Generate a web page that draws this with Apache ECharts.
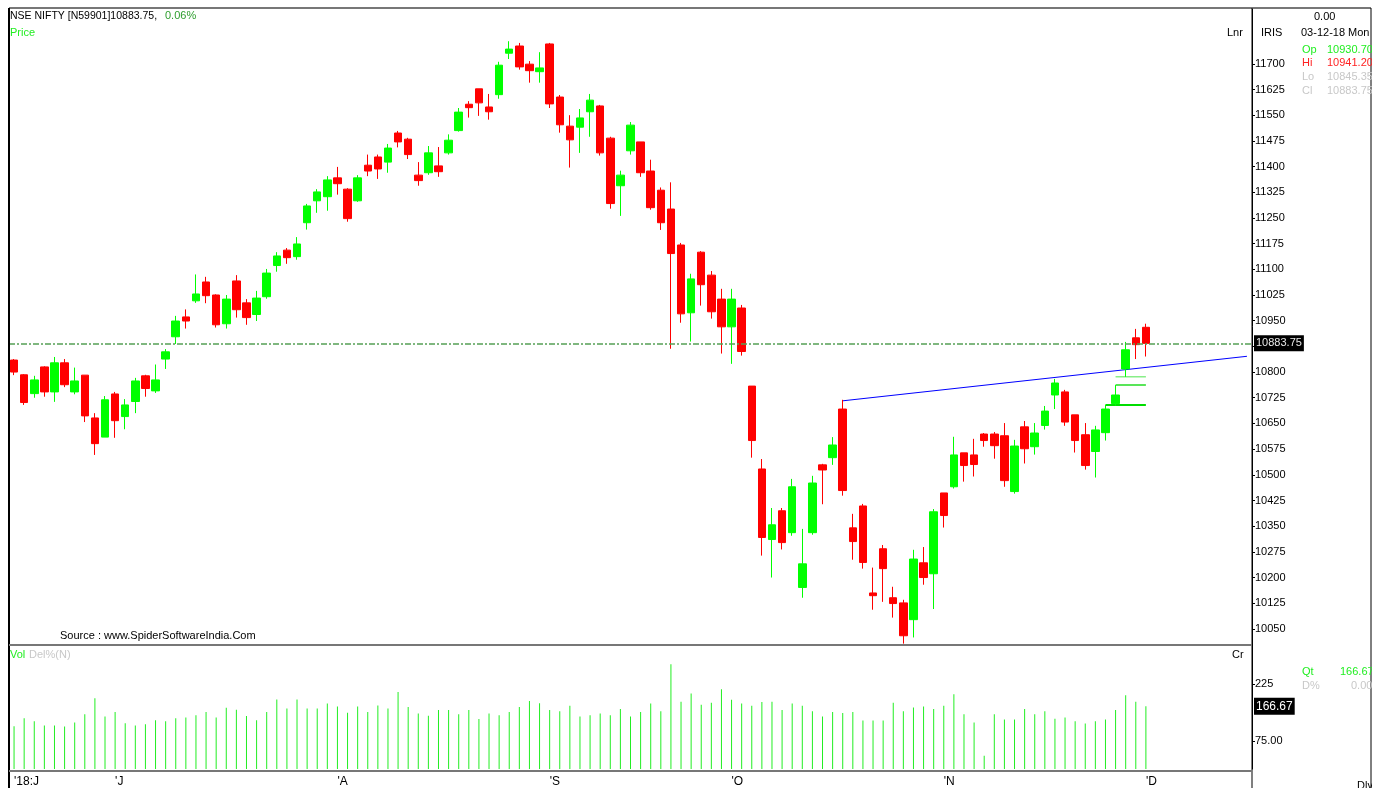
<!DOCTYPE html>
<html lang="en">
  <head>
    <meta charset="UTF-8" />
    <title>NSE NIFTY</title>
    <style>
      html,
      body {
        margin: 0;
        padding: 0;
        background: #fff;
      }
      #chart {
        width: 1383px;
        height: 788px;
      }
    </style>
  </head>
  <body>
    <div id="chart"></div>
    <script src="https://cdn.jsdelivr.net/npm/echarts@6/dist/echarts.min.js"></script>
    <script>
      // daily NIFTY, mid June 2018 .. 03-12-18
      const opens = [
        10835, 10792, 10737, 10815, 10742, 10827, 10742, 10791, 10666, 10610,
        10736, 10670, 10714, 10789, 10745, 10838, 10903, 10961, 11008, 11063,
        11025, 10941, 11066, 11002, 10968, 11020, 11111, 11156, 11137, 11236,
        11300, 11312, 11367, 11334, 11300, 11404, 11428, 11413, 11498, 11480,
        11375, 11382, 11402, 11440, 11505, 11582, 11627, 11574, 11610, 11731,
        11752, 11699, 11677, 11758, 11603, 11518, 11515, 11560, 11577, 11483,
        11344, 11446, 11472, 11387, 11331, 11276, 11171, 10973, 11150, 11083,
        11013, 10932, 10987, 10759, 10517, 10311, 10395, 10331, 10171, 10331,
        10529, 10550, 10692, 10345, 10409, 10155, 10284, 10141, 10126, 10077,
        10243, 10211, 10447, 10465, 10564, 10558, 10619, 10619, 10614, 10451,
        10640, 10582, 10644, 10733, 10742, 10675, 10617, 10568, 10623, 10708,
        10809, 10900, 10930.7,
      ];
      const highs = [
        10838, 10794, 10789, 10817, 10844, 10838, 10813, 10791, 10680, 10730,
        10742, 10721, 10783, 10792, 10822, 10867, 10964, 10983, 11085, 11078,
        11027, 11025, 11083, 11013, 11037, 11101, 11150, 11162, 11194, 11291,
        11334, 11372, 11399, 11337, 11375, 11435, 11435, 11466, 11504, 11484,
        11413, 11460, 11457, 11494, 11571, 11591, 11627, 11612, 11706, 11766,
        11761, 11708, 11734, 11761, 11609, 11550, 11568, 11612, 11580, 11487,
        11388, 11530, 11472, 11420, 11339, 11354, 11177, 11087, 11153, 11095,
        11043, 11043, 10996, 10759, 10546, 10403, 10403, 10488, 10342, 10497,
        10532, 10610, 10719, 10386, 10415, 10229, 10295, 10173, 10135, 10281,
        10289, 10400, 10447, 10611, 10564, 10605, 10622, 10625, 10651, 10602,
        10657, 10651, 10701, 10780, 10748, 10675, 10651, 10643, 10704, 10762,
        10888, 10926, 10941.2,
      ];
      const lows = [
        10791, 10704, 10725, 10728, 10713, 10756, 10735, 10654, 10558, 10610,
        10608, 10633, 10680, 10728, 10739, 10809, 10882, 10927, 11002, 11001,
        10930, 10927, 10959, 10938, 10949, 11014, 11093, 11116, 11128, 11216,
        11265, 11271, 11318, 11239, 11297, 11372, 11364, 11382, 11456, 11422,
        11344, 11376, 11370, 11435, 11502, 11543, 11548, 11537, 11598, 11714,
        11683, 11645, 11645, 11571, 11499, 11397, 11440, 11487, 11432, 11277,
        11256, 11435, 11370, 11274, 11215, 10868, 10944, 10889, 10994, 10956,
        10854, 10824, 10848, 10550, 10264, 10200, 10282, 10322, 10141, 10325,
        10414, 10529, 10439, 10252, 10226, 10106, 10129, 10083, 10007, 10025,
        10179, 10108, 10346, 10460, 10480, 10495, 10582, 10547, 10465, 10445,
        10533, 10559, 10632, 10692, 10643, 10565, 10515, 10492, 10600, 10702,
        10786, 10838, 10845.35,
      ];
      const closes = [
        10800, 10711, 10777, 10742, 10827, 10763, 10774, 10672, 10591, 10719,
        10658, 10704, 10774, 10752, 10777, 10859, 10949, 10949, 11028, 11023,
        10938, 11013, 10982, 10959, 11016, 11089, 11139, 11134, 11174, 11285,
        11326, 11361, 11350, 11248, 11367, 11387, 11393, 11454, 11472, 11435,
        11359, 11440, 11385, 11477, 11559, 11572, 11586, 11560, 11696, 11743,
        11691, 11680, 11688, 11583, 11522, 11478, 11542, 11594, 11440, 11292,
        11375, 11521, 11382, 11280, 11236, 11146, 10970, 11072, 11055, 10976,
        10932, 11013, 10860, 10600, 10317, 10354, 10302, 10465, 10240, 10476,
        10514, 10587, 10454, 10305, 10244, 10147, 10226, 10124, 10030, 10254,
        10200, 10392, 10381, 10558, 10527, 10530, 10600, 10585, 10483, 10584,
        10576, 10622, 10686, 10768, 10654, 10600, 10527, 10631, 10692, 10733,
        10865, 10880, 10883.75,
      ];
      const volumes = [
        114, 135, 127, 116, 116, 113, 124, 146, 188, 140,
        152, 122, 116, 119, 130, 127, 135, 137, 143, 152,
        137, 163, 158, 141, 130, 152, 185, 161, 185, 161,
        161, 174, 166, 150, 166, 152, 169, 161, 205, 165,
        148, 142, 157, 157, 146, 157, 133, 148, 143, 152,
        165, 181, 175, 157, 154, 168, 140, 143, 148, 143,
        160, 140, 152, 174, 154, 279, 179, 201, 171, 176,
        212, 184, 174, 168, 178, 179, 157, 174, 168, 154,
        140, 152, 149, 152, 129, 129, 129, 176, 154, 164,
        166, 160, 168, 199, 146, 124, 35, 146, 132, 132,
        160, 146, 154, 134, 137, 127, 121, 127, 132, 157,
        196, 179, 166.67,
      ];

      const priceTicks = [
        10050, 10125, 10200, 10275, 10350, 10425, 10500, 10575, 10650, 10725,
        10800, 10875, 10950, 11025, 11100, 11175, 11250, 11325, 11400, 11475,
        11550, 11625, 11700,
      ];
      const volTicks = [75, 225];
      const volTickLabels = ["75.00", "225"];
      const monthIdx = [0, 10, 32, 53, 71, 92, 112];
      const monthLabels = ["'18:J", "'J", "'A", "'S", "'O", "'N", "'D"];

      const lastClose = 10883.75;
      const lastVol = 166.67;
      // trend line drawn from the 15-Oct high, and the three small green lines
      const trendLine = [
        [82, 10716],
        [122, 10846],
      ];
      const gapLines = [
        { from: 108, to: 112, value: 10704, color: "#00dd00", width: 2 },
        { from: 109, to: 112, value: 10762, color: "#22dd22", width: 1.5 },
        { from: 109, to: 112, value: 10786, color: "#88ee88", width: 1.5 },
      ];

      const slots = 123;
      const categories = Array.from({ length: slots }, (_, i) => String(i));

      const font = "Liberation Sans, Arial, sans-serif";
      const L = 9,
        R = 1252;

      const candles = opens.map((o, i) => [o, closes[i], lows[i], highs[i]]);

      const extraSeries = gapLines.map((g) => ({
        type: "line",
        xAxisIndex: 0,
        yAxisIndex: 0,
        data: [
          [g.from, g.value],
          [g.to, g.value],
        ],
        symbol: "none",
        lineStyle: { color: g.color, width: g.width },
        z: 3,
        silent: true,
      }));

      function txt(x, y, text, fill, size, align) {
        return {
          type: "text",
          x: x,
          y: y,
          z: 100,
          style: {
            text: text,
            fill: fill,
            font: (size || 11) + "px " + font,
            align: align || "left",
            verticalAlign: "middle",
          },
        };
      }
      function ln(x1, y1, x2, y2, color, w) {
        return {
          type: "line",
          z: 50,
          shape: { x1: x1, y1: y1, x2: x2, y2: y2 },
          style: { stroke: color, lineWidth: w },
        };
      }

      const myChart = echarts.init(document.getElementById("chart"));
      const option = {
        animation: false,
        backgroundColor: "#fff",
        grid: [
          { left: L, right: 1383 - R, top: 8, height: 637 },
          { left: L, right: 1383 - R, top: 645, height: 126 },
        ],
        xAxis: [
          {
            type: "category",
            gridIndex: 0,
            data: categories,
            boundaryGap: true,
            axisLine: { show: false },
            axisTick: { show: false },
            axisLabel: { show: false },
            splitLine: { show: false },
          },
          {
            type: "category",
            gridIndex: 1,
            data: categories,
            boundaryGap: true,
            axisLine: { show: false },
            axisTick: { show: false },
            axisLabel: {
              show: true,
              align: "left",
              margin: 7,
              color: "#000",
              fontSize: 12,
              fontFamily: font,
              interval: (idx) => monthIdx.includes(idx),
              formatter: (v, idx) => monthLabels[monthIdx.indexOf(idx)] || "",
            },
            splitLine: { show: false },
          },
        ],
        yAxis: [
          {
            type: "value",
            gridIndex: 0,
            position: "right",
            min: 10003,
            max: 11863,
            scale: true,
            axisLine: { show: true, lineStyle: { color: "#000" } },
            axisTick: {
              show: true,
              length: 3,
              lineStyle: { color: "#000" },
              customValues: priceTicks,
            },
            axisLabel: {
              color: "#000",
              fontSize: 11,
              fontFamily: font,
              margin: 3,
              customValues: priceTicks,
              formatter: (v) => String(v),
            },
            splitLine: { show: false },
          },
          {
            type: "value",
            gridIndex: 1,
            position: "right",
            min: 0,
            max: 330,
            axisLine: { show: true, lineStyle: { color: "#000" } },
            axisTick: {
              show: true,
              length: 3,
              lineStyle: { color: "#000" },
              customValues: volTicks,
            },
            axisLabel: {
              color: "#000",
              fontSize: 11,
              fontFamily: font,
              margin: 3,
              customValues: volTicks,
              formatter: (v) => volTickLabels[volTicks.indexOf(v)] || "",
            },
            splitLine: { show: false },
          },
        ],
        series: [
          {
            type: "candlestick",
            xAxisIndex: 0,
            yAxisIndex: 0,
            data: candles,
            barWidth: 8,
            itemStyle: {
              color: "#00ff00",
              color0: "#ff0000",
              borderColor: "#00ff00",
              borderColor0: "#ff0000",
              borderWidth: 1,
            },
            markLine: {
              silent: true,
              symbol: "none",
              lineStyle: {
                color: "#55a055",
                width: 1.5,
                type: [6, 2, 2, 2],
              },
              label: {
                show: true,
                position: "end",
                distance: 2,
                formatter: () => lastClose.toFixed(2),
                backgroundColor: "#000",
                color: "#e8e8e8",
                fontSize: 11,
                fontFamily: font,
                padding: [3, 2, 2, 2],
              },
              data: [{ yAxis: lastClose }],
            },
            z: 4,
          },
          {
            type: "line",
            xAxisIndex: 0,
            yAxisIndex: 0,
            data: trendLine,
            symbol: "none",
            lineStyle: { color: "#0000ff", width: 1 },
            z: 3,
            silent: true,
          },
          ...extraSeries,
          {
            type: "bar",
            xAxisIndex: 1,
            yAxisIndex: 1,
            data: volumes,
            barWidth: 1,
            itemStyle: { color: "#22ee22" },
            markLine: {
              silent: true,
              symbol: "none",
              lineStyle: { color: "rgba(0,0,0,0)", width: 1 },
              label: {
                show: true,
                position: "end",
                distance: 2,
                formatter: () => lastVol.toFixed(2),
                backgroundColor: "#000",
                color: "#fff",
                fontSize: 12,
                fontFamily: font,
                padding: [3, 2, 2, 2],
              },
              data: [{ yAxis: lastVol }],
            },
          },
        ],
        graphic: [
          // frame
          ln(L, 8, 1371, 8, "#777", 2),
          ln(L, 8, L, 788, "#000", 2),
          ln(R, 8, R, 788, "#000", 1),
          ln(1371, 8, 1371, 788, "#000", 1),
          ln(L, 645, R, 645, "#777", 2),
          ln(L, 771, R, 771, "#777", 2),
          // header
          txt(10, 16, "NSE NIFTY [N59901]10883.75,", "#000", 10.5),
          txt(165, 16, "0.06%", "#2e9e2e", 11),
          txt(10, 33, "Price", "#22ee22", 11),
          txt(1227, 33, "Lnr", "#000", 11),
          txt(1261, 33, "IRIS", "#000", 11),
          txt(1314, 17, "0.00", "#000", 11),
          txt(1301, 33, "03-12-18 Mon", "#000", 11),
          txt(1302, 50, "Op", "#22ee22", 11),
          txt(1327, 50, "10930.70", "#22ee22", 11),
          txt(1302, 63, "Hi", "#ff2222", 11),
          txt(1327, 63, "10941.20", "#ff2222", 11),
          txt(1302, 77, "Lo", "#c8c8c8", 11),
          txt(1327, 77, "10845.35", "#c8c8c8", 11),
          txt(1302, 91, "Cl", "#c8c8c8", 11),
          txt(1327, 91, "10883.75", "#c8c8c8", 11),
          txt(60, 636, "Source : www.SpiderSoftwareIndia.Com", "#000", 11),
          txt(10, 655, "Vol", "#22ee22", 11),
          txt(29, 655, "Del%(N)", "#c8c8c8", 11),
          txt(1232, 655, "Cr", "#000", 11),
          txt(1302, 672, "Qt", "#22ee22", 11),
          txt(1340, 672, "166.67", "#22ee22", 11),
          txt(1302, 686, "D%", "#c8c8c8", 11),
          txt(1351, 686, "0.00", "#c8c8c8", 11),
          txt(1357, 786, "Dlv", "#000", 11),
          // clip panel overflow on the right
          {
            type: "rect",
            z: 120,
            shape: { x: 1372, y: 0, width: 20, height: 788 },
            style: { fill: "#fff" },
          },
        ],
      };
      myChart.setOption(option);
    </script>
  </body>
</html>
